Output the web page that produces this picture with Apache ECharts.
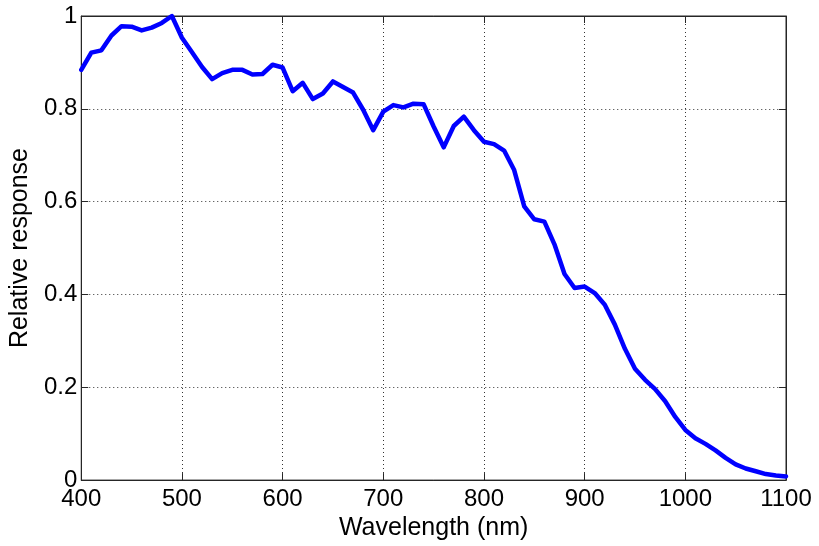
<!DOCTYPE html>
<html>
<head>
<meta charset="utf-8">
<script src="https://cdn.jsdelivr.net/npm/echarts@6/dist/echarts.min.js"></script>
<style>
html,body{margin:0;padding:0;background:#fff;}
#chart{width:819px;height:546px;}
</style>
</head>
<body>
<div id="chart"></div>
<script>
const wavelengths = [400,410,420,430,440,450,460,470,480,490,500,510,520,530,540,550,560,570,580,590,600,610,620,630,640,650,660,670,680,690,700,710,720,730,740,750,760,770,780,790,800,810,820,830,840,850,860,870,880,890,900,910,920,930,940,950,960,970,980,990,1000,1010,1020,1030,1040,1050,1060,1070,1080,1090,1100];
const response = [0.884,0.921,0.926,0.958,0.978,0.977,0.969,0.975,0.985,1.0,0.953,0.922,0.890,0.864,0.877,0.884,0.884,0.874,0.875,0.895,0.889,0.838,0.856,0.821,0.833,0.859,0.847,0.835,0.798,0.754,0.794,0.808,0.803,0.811,0.810,0.762,0.717,0.763,0.783,0.754,0.729,0.724,0.710,0.668,0.590,0.562,0.557,0.508,0.444,0.414,0.417,0.403,0.378,0.335,0.283,0.240,0.216,0.196,0.170,0.136,0.108,0.090,0.078,0.064,0.048,0.034,0.025,0.019,0.013,0.010,0.008];
const xTicks = [400,500,600,700,800,900,1000,1100];
const yTicks = ['0','0.2','0.4','0.6','0.8','1'];
const xLabel = 'Wavelength (nm)';
const yLabel = 'Relative response';

const font = 'Liberation Sans, Helvetica, Arial, sans-serif';
const frame = '#262626';
const chart = echarts.init(document.getElementById('chart'), null, {renderer:'canvas'});
const axisCommon = {
  axisLine:{show:true,onZero:false,lineStyle:{color:frame,width:1}},
  axisTick:{show:true,inside:true,length:7,lineStyle:{color:frame,width:1}},
  splitLine:{show:false}
};
chart.setOption({
  animation:false,
  backgroundColor:'#fff',
  grid:{left:81,right:33,top:16,bottom:64,containLabel:false,show:true,borderColor:frame,borderWidth:1,backgroundColor:'transparent'},
  xAxis:[
    Object.assign({}, axisCommon, {
      type:'value',min:400,max:1100,interval:100,position:'bottom',
      name:xLabel,nameLocation:'middle',nameGap:31,
      nameTextStyle:{fontFamily:font,fontSize:25,color:'#000'},
      axisLabel:{show:true,margin:7,fontFamily:font,fontSize:24,color:'#000',
        formatter:v=>xTicks.indexOf(v)>=0?String(v):''},
      splitLine:{show:true,lineStyle:{color:'#333',type:[1,3],width:1}}
    }),
    Object.assign({}, axisCommon, {
      type:'value',min:400,max:1100,interval:100,position:'top',
      axisLabel:{show:false}
    })
  ],
  yAxis:[
    Object.assign({}, axisCommon, {
      type:'value',min:0,max:1,interval:0.2,position:'left',
      name:yLabel,nameLocation:'middle',nameGap:47,
      nameTextStyle:{fontFamily:font,fontSize:25,color:'#000'},
      axisLabel:{show:true,margin:4,fontFamily:font,fontSize:24,color:'#000',
        formatter:v=>yTicks[Math.round(v*5)]},
      splitLine:{show:true,lineStyle:{color:'#333',type:[1,3],width:1}}
    }),
    Object.assign({}, axisCommon, {
      type:'value',min:0,max:1,interval:0.2,position:'right',
      axisLabel:{show:false}
    })
  ],
  series:[{
    type:'line',
    xAxisIndex:0,yAxisIndex:0,
    data:wavelengths.map((w,i)=>[w,response[i]]),
    showSymbol:false,symbol:'none',smooth:false,
    lineStyle:{color:'#0000ff',width:4.5,join:'round',cap:'round'},
    clip:false
  }]
});
</script>
</body>
</html>
